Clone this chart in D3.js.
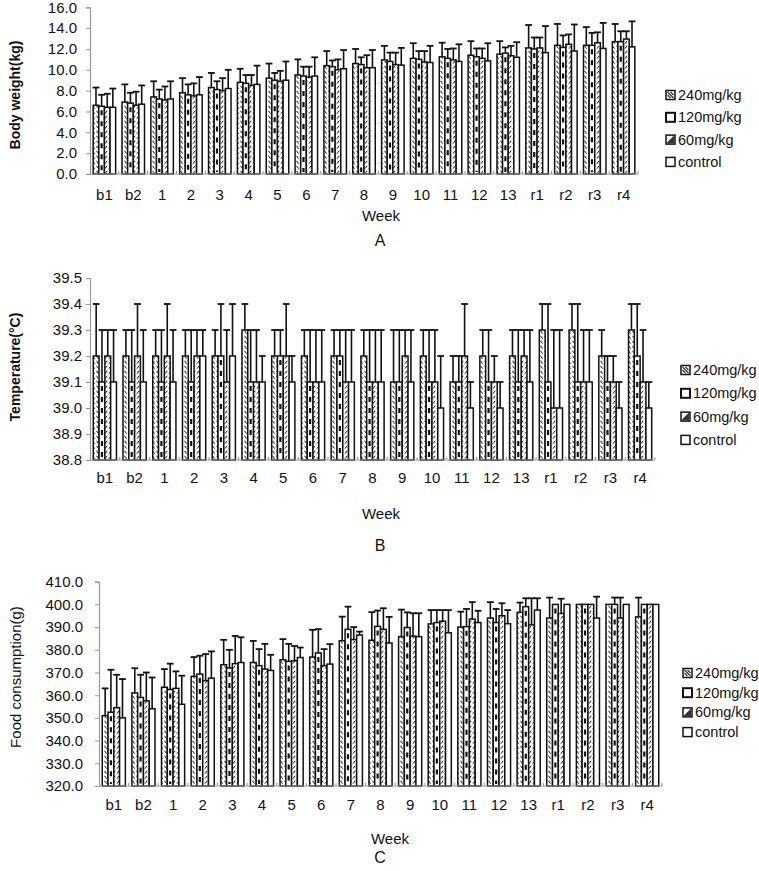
<!DOCTYPE html>
<html><head><meta charset="utf-8">
<script src="https://cdn.jsdelivr.net/npm/d3@7"></script>
<style>
body{margin:0;background:#fff}
svg{display:block}
text{font-family:"Liberation Sans",Arial,sans-serif;fill:#111}
</style>
</head><body><div id="chart"></div>
<script>
// ---------------- DATA ----------------
const weeks = ["b1","b2","1","2","3","4","5","6","7","8","9","10","11","12","13","r1","r2","r3","r4"];
const groups = ["240mg/kg","120mg/kg","60mg/kg","control"];

// Body weight (kg): mean per week [240,120,60,control]
const weightMean = [
 [6.6,6.5,6.4,6.4],[6.9,6.8,6.6,6.7],[7.4,7.2,7.1,7.2],[7.8,7.6,7.5,7.6],[8.3,8.1,8.0,8.2],
 [8.8,8.7,8.5,8.6],[9.2,9.0,8.9,9.0],[9.5,9.4,9.3,9.4],[10.4,10.3,10.0,10.1],[10.6,10.5,10.2,10.2],
 [10.95,10.8,10.5,10.45],[11.1,11.0,10.75,10.7],[11.25,11.1,10.95,10.8],[11.4,11.25,11.1,10.85],[11.5,11.6,11.35,11.2],
 [12.1,12.0,12.1,11.65],[12.35,12.15,12.45,11.8],[12.35,12.35,12.6,12.05],[12.7,12.7,12.95,12.2]
];
// Upper end of error bars
const weightUpper = [
 [8.3,7.6,7.7,8.2],[8.6,7.8,7.9,8.5],[8.9,8.1,8.4,8.9],[9.2,8.6,8.7,9.3],[9.7,8.9,9.2,10.0],
 [10.1,9.5,9.5,10.4],[10.6,9.7,9.9,10.8],[11.0,10.3,10.3,11.2],[11.8,10.9,11.0,11.9],[12.0,11.2,11.4,11.9],
 [12.3,11.65,11.65,12.1],[12.55,11.8,11.8,12.3],[12.6,12.0,12.05,12.45],[12.75,12.05,12.05,12.55],[12.75,12.15,12.3,12.65],
 [14.3,13.1,13.1,14.2],[14.4,13.3,13.4,14.35],[14.1,13.55,13.6,14.5],[14.4,13.7,13.7,14.65]
];
const weightTicks = [0,2,4,6,8,10,12,14,16];

// Temperature (°C)
const tempMean = [
 [39.2,39.1,39.2,39.1],[39.2,39.1,39.2,39.1],[39.2,39.1,39.2,39.1],[39.2,39.1,39.2,39.2],[39.2,39.2,39.1,39.2],
 [39.3,39.1,39.1,39.1],[39.2,39.2,39.2,39.1],[39.2,39.1,39.1,39.1],[39.2,39.2,39.1,39.1],[39.2,39.1,39.1,39.1],
 [39.1,39.1,39.2,39.1],[39.2,39.1,39.1,39.0],[39.1,39.1,39.2,39.0],[39.2,39.1,39.1,39.0],[39.2,39.1,39.2,39.1],
 [39.3,39.1,39.0,39.0],[39.3,39.1,39.1,39.1],[39.2,39.1,39.1,39.0],[39.3,39.2,39.1,39.0]
];
const tempUpper = [
 [39.4,39.3,39.3,39.3],[39.3,39.3,39.4,39.3],[39.3,39.3,39.4,39.3],[39.3,39.3,39.3,39.3],[39.3,39.4,39.3,39.4],
 [39.4,39.3,39.3,39.2],[39.3,39.3,39.4,39.2],[39.3,39.3,39.3,39.3],[39.3,39.3,39.3,39.3],[39.3,39.3,39.3,39.3],
 [39.3,39.3,39.3,39.3],[39.3,39.3,39.3,39.2],[39.2,39.2,39.4,39.1],[39.3,39.3,39.2,39.1],[39.3,39.3,39.3,39.3],
 [39.4,39.4,39.3,39.3],[39.4,39.4,39.3,39.3],[39.3,39.2,39.2,39.1],[39.4,39.4,39.3,39.1]
];
const tempTicks = [38.8,38.9,39.0,39.1,39.2,39.3,39.4,39.5];

// Food consumption (g)
const foodMean = [
 [351,352.5,354.5,350],[361,359,357.5,354],[363.5,362.5,363,356],[368.3,369.3,366.4,367.5],[373.4,372,373.9,374.4],
 [374.4,373,371.5,370.9],[375.6,374.9,375.2,376.6],[376.8,378.6,373,373.7],[384,389,384.5,386.5],[384.2,390.3,389,383],
 [385.8,389.8,386,385.8],[391.4,392,392.6,387.5],[390,390.2,393.5,392],[394,392,395,391.5],[396.5,399,391,397.5],
 [394,400,396,400],[400,400,400,394],[400,400,394,400],[394.5,400,400,400]
];
const foodUpper = [
 [363,371.2,369,367.1],[371.9,369,370,367.8],[371.5,373.9,370.5,368.6],[376.8,377.4,378.1,379.3],[384.4,380,386.1,385.5],
 [383.9,380.3,382.6,377.8],[384.7,382.6,381.7,381],[388.8,389.1,380.3,382.5],[394.6,399,390,388],[396.6,397.3,398.3,394.5],
 [397.7,396.5,396.1,396.1],[397.5,397.5,397.5,397.5],[396.8,398,401,397.2],[401,398,400.5,397.5],[400.8,402.7,402.7,402.7],
 [403,400,402.5,400],[400,400,400,403.4],[400,403,403,400],[403,400,400,400]
];
const foodTicks = [320,330,340,350,360,370,380,390,400,410];

// ---------------- DRAW ----------------
const W = 759, H = 871;
const svg = d3.select("#chart").append("svg").attr("width", W).attr("height", H);
const defs = svg.append("defs");

const p240 = defs.append("pattern").attr("id","p240").attr("patternUnits","userSpaceOnUse")
  .attr("width",4).attr("height",5);
p240.append("rect").attr("width",4).attr("height",5).attr("fill","#fff");
p240.append("path").attr("d","M0.5,0.8 L2.6,3.6").attr("stroke","#111").attr("stroke-width",1);

const p60 = defs.append("pattern").attr("id","p60").attr("patternUnits","userSpaceOnUse")
  .attr("width",4).attr("height",5);
p60.append("rect").attr("width",4).attr("height",5).attr("fill","#fff");
p60.append("path").attr("d","M3.2,0.8 L1.0,3.6").attr("stroke","#111").attr("stroke-width",1);

const fills = {"240mg/kg":"url(#p240)","120mg/kg":"#fff","60mg/kg":"url(#p60)","control":"#fff"};

function panel(cfg){
  const {means, uppers, ticks} = cfg;
  const x = d3.scaleBand().domain(weeks).range([cfg.x0, cfg.x1]).padding(0);
  const step = x.step();
  const xs = d3.scaleBand().domain(groups).range([step*0.11, step*0.89]).padding(0);
  const y = d3.scaleLinear().domain([ticks[0], ticks[ticks.length-1]]).range([cfg.yBot, cfg.yTop]);
  const g = svg.append("g");

  // y axis
  const ya = g.append("g").attr("transform",`translate(${cfg.x0},0)`)
    .call(d3.axisLeft(y).tickValues(ticks).tickFormat(d3.format(".1f")).tickSize(4).tickPadding(cfg.tickPad));
  ya.select(".domain").attr("stroke","#999").attr("stroke-width",1.2);
  ya.selectAll(".tick line").attr("stroke","#999");
  ya.selectAll(".tick text").attr("font-size",15).attr("font-family","'Liberation Sans',Arial,sans-serif").attr("fill","#111");

  // x axis labels
  const xa = g.append("g").attr("transform",`translate(0,${cfg.yBot})`)
    .call(d3.axisBottom(x).tickSize(0).tickPadding(cfg.xPad));
  xa.select(".domain").remove();
  xa.selectAll(".tick text").attr("font-size",15).attr("font-family","'Liberation Sans',Arial,sans-serif").attr("fill","#111");

  // bars
  weeks.forEach((w, i) => {
    groups.forEach((s, j) => {
      const bx = x(w) + xs(s), bw = xs.bandwidth();
      const v = means[i][j], u = uppers[i][j];
      const top = y(v);
      // error bar
      if (u > v) {
        const cx = bx + bw/2;
        g.append("line").attr("x1",cx).attr("x2",cx).attr("y1",top).attr("y2",y(u))
          .attr("stroke","#111").attr("stroke-width",1.6);
        g.append("line").attr("x1",cx-3.4).attr("x2",cx+3.4).attr("y1",y(u)).attr("y2",y(u))
          .attr("stroke","#111").attr("stroke-width",1.8);
      }
      g.append("rect").attr("x",bx).attr("y",top).attr("width",bw).attr("height",cfg.yBot-top)
        .attr("fill",fills[s]).attr("stroke","#111").attr("stroke-width",1.5);
      if (s === "120mg/kg") {
        g.append("line").attr("x1",bx+bw/2).attr("x2",bx+bw/2).attr("y1",top+4).attr("y2",cfg.yBot-2)
          .attr("stroke","#111").attr("stroke-width",2.2).attr("stroke-dasharray","5,6");
      }
    });
  });

  // x axis line with small ticks
  g.append("line").attr("x1",cfg.x0).attr("x2",cfg.x1).attr("y1",cfg.yBot).attr("y2",cfg.yBot)
    .attr("stroke","#999").attr("stroke-width",1.2);
  weeks.forEach(w => {
    const bx = x(w) + step;
    g.append("line").attr("x1",bx).attr("x2",bx).attr("y1",cfg.yBot).attr("y2",cfg.yBot-3)
      .attr("stroke","#999").attr("stroke-width",1);
  });

  // y title
  g.append("text").attr("transform",`translate(${cfg.titleX},${cfg.titleY}) rotate(-90)`)
    .attr("text-anchor","middle").attr("dominant-baseline","central")
    .attr("font-size",cfg.bold?14:15).attr("font-weight",cfg.bold?"bold":"normal").text(cfg.title);
  // Week
  g.append("text").attr("x",cfg.weekX).attr("y",cfg.weekY).attr("text-anchor","middle")
    .attr("dominant-baseline","central").attr("font-size",15).text("Week");
  // letter
  g.append("text").attr("x",380).attr("y",cfg.letterY).attr("text-anchor","middle")
    .attr("dominant-baseline","central").attr("font-size",16)
    .attr("font-family","'DejaVu Sans',sans-serif").text(cfg.letter);

  // legend
  const lg = g.append("g");
  groups.forEach((s, j) => {
    const yy = cfg.legY + j*cfg.legStep;
    const sw = lg.append("rect").attr("x",cfg.legX).attr("y",yy-4.5).attr("width",9).attr("height",9)
      .attr("stroke","#111").attr("stroke-width",1.5).attr("fill","#fff");
    if (s === "240mg/kg") {
      lg.append("path").attr("d",`M${cfg.legX+1.5},${yy-3} L${cfg.legX+7.5},${yy+3} M${cfg.legX+1.5},${yy} L${cfg.legX+4.5},${yy+3} M${cfg.legX+4.5},${yy-3} L${cfg.legX+7.5},${yy}`)
        .attr("stroke","#333").attr("stroke-width",1.2);
    } else if (s === "60mg/kg") {
      lg.append("path").attr("d",`M${cfg.legX+8},${yy-4} L${cfg.legX+8},${yy+4} L${cfg.legX},${yy+4} Z`)
        .attr("fill","#333");
    } else if (s === "120mg/kg") {
      sw.attr("stroke-width",2);
    }
    lg.append("text").attr("x",cfg.legX+12).attr("y",yy).attr("dominant-baseline","central")
      .attr("font-size",14.5).text(s);
  });
}

panel({means:weightMean, uppers:weightUpper, ticks:weightTicks,
  x0:90, x1:638, yTop:7.3, yBot:174, tickPad:9, xPad:15.5,
  title:"Body weight(kg)", bold:true, titleX:15, titleY:95,
  weekX:381, weekY:215, letter:"A", letterY:240,
  legX:666, legY:95, legStep:22.3});

panel({means:tempMean, uppers:tempUpper, ticks:tempTicks,
  x0:90, x1:655, yTop:278, yBot:460, tickPad:4, xPad:12.7,
  title:"Temperature(°C)", bold:true, titleX:15, titleY:367,
  weekX:381, weekY:513, letter:"B", letterY:545,
  legX:681, legY:370, legStep:23.3});

panel({means:foodMean, uppers:foodUpper, ticks:foodTicks,
  x0:99, x1:662, yTop:581.7, yBot:786, tickPad:12, xPad:13.7,
  title:"Food consumption(g)", bold:false, titleX:15, titleY:677,
  weekX:390, weekY:838, letter:"C", letterY:857,
  legX:683, legY:673, legStep:19.7});
</script>
</body></html>
